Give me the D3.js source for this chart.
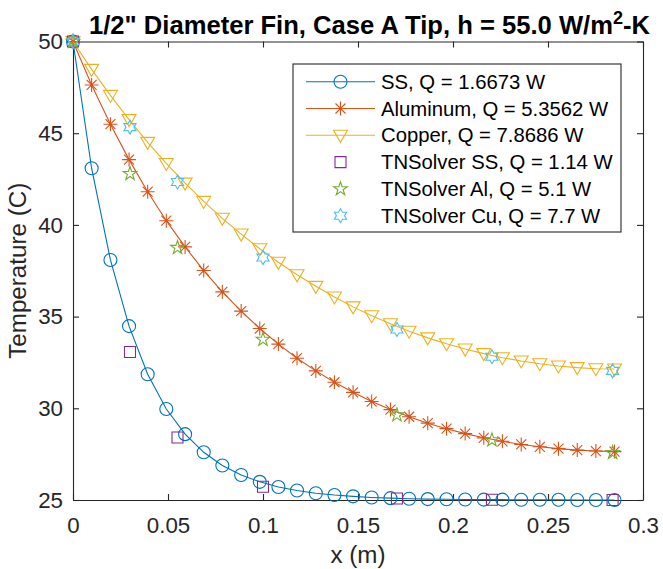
<!DOCTYPE html>
<html>
<head>
<meta charset="utf-8">
<script src="https://cdn.jsdelivr.net/npm/d3@7"></script>
<style>
  body { margin: 0; background: #fff; }
  svg { display: block; font-family: "Liberation Sans", Arial, Helvetica, sans-serif; }
</style>
</head>
<body>
<svg id="chart" width="663" height="569"></svg>
<script>
// analytical fin solution, 30 nodes along the fin (m)
const xPos = [0, 0.0098, 0.0197, 0.0295, 0.0393, 0.0491, 0.0590, 0.0688, 0.0786, 0.0885,
  0.0983, 0.1081, 0.1179, 0.1278, 0.1376, 0.1474, 0.1572, 0.1671, 0.1769, 0.1867,
  0.1966, 0.2064, 0.2162, 0.2260, 0.2359, 0.2457, 0.2555, 0.2654, 0.2752, 0.2850];
const ssTemp = [50, 43.09, 38.09, 34.48, 31.86, 29.96, 28.59, 27.60, 26.88, 26.36,
  25.99, 25.71, 25.52, 25.37, 25.27, 25.20, 25.14, 25.10, 25.07, 25.05,
  25.04, 25.03, 25.02, 25.02, 25.01, 25.01, 25.01, 25.00, 25.00, 25.00];
const alTemp = [50, 47.63, 45.49, 43.56, 41.81, 40.23, 38.80, 37.51, 36.35, 35.30,
  34.35, 33.50, 32.73, 32.04, 31.42, 30.87, 30.37, 29.93, 29.54, 29.19,
  28.89, 28.62, 28.39, 28.20, 28.03, 27.90, 27.80, 27.72, 27.67, 27.64];
const cuTemp = [50, 48.48, 47.06, 45.74, 44.50, 43.35, 42.28, 41.28, 40.36, 39.50,
  38.70, 37.96, 37.28, 36.65, 36.07, 35.53, 35.05, 34.61, 34.20, 33.84,
  33.52, 33.23, 32.98, 32.76, 32.58, 32.43, 32.31, 32.22, 32.16, 32.14];

// TNSolver node results
const tnX = [0, 0.030, 0.055, 0.1, 0.1705, 0.2205, 0.284];
const tnSS = [50, 33.07, 28.41, 25.72, 25.08, 25.01, 25.00];
const tnAl = [50, 42.79, 38.76, 33.75, 29.63, 28.27, 27.58];
const tnCu = [50, 45.33, 42.34, 38.22, 34.30, 32.81, 32.04];

const xTicks = [0, 0.05, 0.1, 0.15, 0.2, 0.25, 0.3];
const xTickLabels = ["0", "0.05", "0.1", "0.15", "0.2", "0.25", "0.3"];
const yTicks = [25, 30, 35, 40, 45, 50];
const legendLabels = ["SS, Q = 1.6673 W", "Aluminum, Q = 5.3562 W", "Copper, Q = 7.8686 W",
  "TNSolver SS, Q = 1.14 W", "TNSolver Al, Q = 5.1 W", "TNSolver Cu, Q = 7.7 W"];

const width = 663;
const height = 569;
const margin = { top: 41.5, right: 20, bottom: 69, left: 73 };
const axisColor = "#262626";

const series = [
  { x: xPos, y: ssTemp, color: "#0072BD", marker: "circle", line: true },
  { x: xPos, y: alTemp, color: "#D95319", marker: "asterisk", line: true },
  { x: xPos, y: cuTemp, color: "#EDB120", marker: "triangle", line: true },
  { x: tnX, y: tnSS, color: "#7E2F8E", marker: "square", line: false },
  { x: tnX, y: tnAl, color: "#77AC30", marker: "pentagram", line: false },
  { x: tnX, y: tnCu, color: "#4DBEEE", marker: "hexagram", line: false }
];

// marker outlines, centred on (0,0)
const markerPath = (type) => {
  if (type === "circle") return d3.symbol(d3.symbolCircle, Math.PI * 6.5 * 6.5)();
  if (type === "asterisk") return "M-7,0H7M0,-7V7M-5,-5L5,5M-5,5L5,-5";
  if (type === "triangle") return "M-7,-5L7,-5L0,7Z";
  if (type === "square") return "M-5.5,-5.5h11v11h-11Z";
  if (type === "pentagram") return d3.symbol(d3.symbolStar, 58)();
  // hexagram: two interlaced triangles
  const pts = [];
  for (let k = 0; k < 12; k++) {
    const r = k % 2 === 0 ? 7 : 7 / Math.sqrt(3);
    const a = -Math.PI / 2 + k * Math.PI / 6;
    pts.push([r * Math.cos(a), r * Math.sin(a)]);
  }
  return "M" + pts.map(p => p[0].toFixed(2) + "," + p[1].toFixed(2)).join("L") + "Z";
};

const svg = d3.select("#chart");
svg.append("rect").attr("width", width).attr("height", height).attr("fill", "#fff");

const xScale = d3.scaleLinear().domain([0, 0.3]).range([margin.left, width - margin.right]);
const yScale = d3.scaleLinear().domain([25, 50]).range([height - margin.bottom, margin.top]);

// axes (box on, ticks pointing inward)
const styleAxis = (g) => {
  g.attr("color", axisColor)
    .attr("font-family", "'Liberation Sans', Arial, Helvetica, sans-serif")
    .attr("font-size", 22.3);
  g.selectAll("path, line").attr("stroke-width", 1.1);
};

svg.append("g")
  .attr("transform", `translate(0,${height - margin.bottom})`)
  .call(d3.axisBottom(xScale).tickValues(xTicks)
    .tickFormat((d, i) => xTickLabels[i]).tickSizeInner(-6).tickSizeOuter(0).tickPadding(17))
  .call(styleAxis);

svg.append("g")
  .attr("transform", `translate(0,${margin.top})`)
  .call(d3.axisTop(xScale).tickValues(xTicks).tickFormat("").tickSizeInner(-6).tickSizeOuter(0))
  .call(styleAxis);

svg.append("g")
  .attr("transform", `translate(${margin.left},0)`)
  .call(d3.axisLeft(yScale).tickValues(yTicks).tickSizeInner(-6).tickSizeOuter(0).tickPadding(10))
  .call(styleAxis);

svg.append("g")
  .attr("transform", `translate(${width - margin.right},0)`)
  .call(d3.axisRight(yScale).tickValues(yTicks).tickFormat("").tickSizeInner(-6).tickSizeOuter(0))
  .call(styleAxis);

// data
const line = d3.line()
  .x(d => xScale(d[0]))
  .y(d => yScale(d[1]));

series.forEach(s => {
  const pts = s.x.map((x, i) => [x, s.y[i]]);
  const g = svg.append("g");
  if (s.line) {
    g.append("path")
      .attr("d", line(pts))
      .attr("fill", "none")
      .attr("stroke", s.color)
      .attr("stroke-width", 1.1);
  }
  g.selectAll(".mk")
    .data(pts)
    .enter()
    .append("path")
    .attr("class", "mk")
    .attr("transform", d => `translate(${xScale(d[0])},${yScale(d[1])})`)
    .attr("d", markerPath(s.marker))
    .attr("fill", "none")
    .attr("stroke", s.color)
    .attr("stroke-width", 1.1);
});

// labels
svg.append("text")
  .attr("x", 89)
  .attr("y", 33.7)
  .attr("font-size", 25.6)
  .attr("font-weight", "bold")
  .attr("fill", "#000")
  .text("1/2\" Diameter Fin, Case A Tip, h = 55.0 W/m")
  .append("tspan")
  .attr("font-size", 18)
  .attr("dy", -10)
  .text("2")
  .select(function() { return this.parentNode; })
  .append("tspan")
  .attr("dy", 10)
  .text("-K");

svg.append("text")
  .attr("x", xScale(0.15))
  .attr("y", 563)
  .attr("text-anchor", "middle")
  .attr("font-size", 24.2)
  .attr("fill", axisColor)
  .text("x (m)");

svg.append("text")
  .attr("transform", `translate(26,${(margin.top + height - margin.bottom) / 2}) rotate(-90)`)
  .attr("text-anchor", "middle")
  .attr("font-size", 24.2)
  .attr("fill", axisColor)
  .text("Temperature (C)");

// legend
const legend = svg.append("g").attr("transform", "translate(293,64)");
legend.append("rect")
  .attr("width", 328)
  .attr("height", 168)
  .attr("fill", "#fff")
  .attr("stroke", axisColor)
  .attr("stroke-width", 1.1);

series.forEach((s, i) => {
  const row = legend.append("g").attr("transform", `translate(0,${17.7 + i * 26.8})`);
  if (s.line) {
    row.append("line")
      .attr("x1", 13).attr("x2", 82)
      .attr("stroke", s.color)
      .attr("stroke-width", 1.1);
  }
  row.append("path")
    .attr("transform", "translate(47.5,0)")
    .attr("d", markerPath(s.marker))
    .attr("fill", "none")
    .attr("stroke", s.color)
    .attr("stroke-width", 1.1);
  row.append("text")
    .attr("x", 88)
    .attr("dy", "0.35em")
    .attr("font-size", 20.3)
    .attr("fill", "#000")
    .text(legendLabels[i]);
});
</script>
</body>
</html>
